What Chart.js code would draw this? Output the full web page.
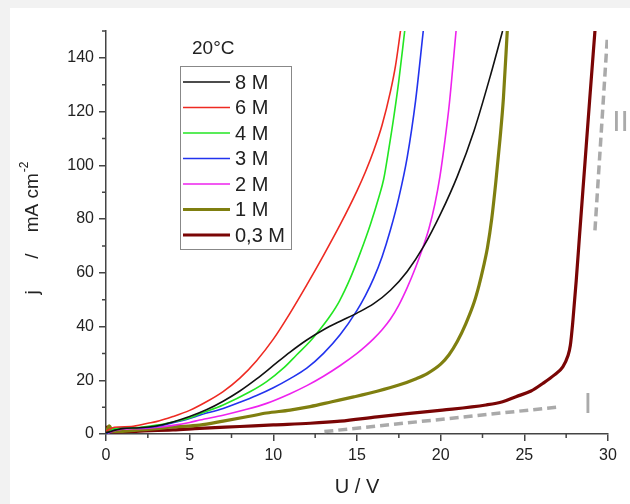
<!DOCTYPE html>
<html>
<head>
<meta charset="utf-8">
<script src="https://cdn.jsdelivr.net/npm/chart.js@4.4.1/dist/chart.umd.min.js"></script>
<style>
  html, body { margin: 0; padding: 0; background: #f2f2f2; overflow: hidden; }
  #card { position: absolute; left: 10px; top: 8px; width: 700px; height: 600px; background: #fff; }
</style>
</head>
<body>
<div id="card"><canvas id="ivChart" width="620" height="496"></canvas></div>
<script>
// ---- data (U in V, j in mA cm^-2) ----
const SERIES_LABELS = ['8 M', '6 M', '4 M', '3 M', '2 M', '1 M', '0,3 M'];
const SERIES_COLORS = ['#111111', '#ee2a22', '#22e622', '#2233ee', '#ee22ee', '#7f7f10', '#7a0505'];
const SERIES_WIDTHS = [1.6, 1.6, 1.6, 1.6, 1.6, 3.2, 3.2];

const U_8M = [0, 1, 2, 3, 4, 5, 6, 7, 8, 9, 10, 11, 12, 13, 14, 15, 16, 17, 18, 19, 20, 21, 22, 23, 23.7];
const J_8M = [0.5, 2, 2.3, 3, 4.5, 6.5, 9, 12.2, 16, 20.5, 25.5, 30.5, 35, 38.8, 42, 45, 48.5, 53.5, 60.5, 70, 82, 96, 113, 134, 150];

const U_6M = [0, 0.5, 1.5, 2.5, 3, 4, 5, 6, 7, 8, 9, 10, 11, 12, 13, 14, 15, 15.5, 16, 16.5, 17, 17.3, 17.6];
const J_6M = [1, 2.5, 2.8, 4, 4.6, 6.5, 8.8, 12, 15.8, 20.8, 27.3, 35.3, 45, 55.5, 66.5, 78, 90.5, 97.5, 105.5, 115, 127.5, 137, 150];

const U_4M = [0, 0.5, 1.5, 3, 4, 5, 5.6, 7, 8.6, 9.6, 10.6, 11.4, 12.2, 12.9, 13.4, 13.95, 14.6, 15.2, 15.8, 16.3, 16.6, 16.9, 17.2, 17.5, 17.85];
const J_4M = [0.5, 2, 2.2, 3.3, 4.5, 6, 7.5, 10.8, 15.7, 19.5, 24.5, 29.5, 34.5, 39.8, 44, 49.5, 58, 67.5, 78, 88, 95, 106, 118, 131.5, 150];

const U_3M = [0, 0.4, 0.8, 2, 3, 4, 5, 5.6, 7, 8, 9, 10, 11, 12, 13, 14, 15, 15.5, 16, 16.5, 17, 17.5, 18, 18.5, 18.96];
const J_3M = [0, 1.5, 2.3, 2.3, 2.8, 4.2, 5.8, 7, 9.5, 11.8, 14.3, 17.2, 20.6, 24.5, 30, 37, 46, 51.5, 58, 66, 76, 88, 103, 124, 150];

const U_2M = [0, 0.5, 1, 2, 3, 4, 5, 5.6, 7, 8.3, 9.6, 11, 12, 13, 14, 15, 15.5, 16, 16.5, 17, 17.5, 18, 18.5, 18.9, 19.3, 19.65, 19.96, 20.25, 20.52, 20.92];
const J_2M = [0, 1.2, 1.8, 2, 2.4, 3.2, 4.3, 5.2, 7, 9, 11.4, 15, 18, 21.5, 25.5, 30, 32.6, 35.5, 38.8, 42.8, 48, 54.5, 62, 68.8, 76.5, 85.5, 96, 109, 123, 150];

const U_1M = [0, 0.2, 0.4, 1, 2, 3, 4, 5.6, 7, 8.5, 9.6, 11, 12.2, 13.5, 14.8, 16.2, 17.5, 18.5, 19.2, 20, 20.5, 21, 21.5, 22, 22.3, 22.55, 22.8, 23.05, 23.3, 23.55, 23.75, 23.98];
const J_1M = [0.5, 3, 1, 1, 1.5, 2, 2.6, 3.3, 4.8, 6.5, 7.8, 8.9, 10.2, 12, 13.8, 15.9, 18.2, 20.5, 22.5, 26, 29.5, 34.5, 41, 49, 55.5, 62, 69.5, 80, 94, 110, 125, 150];

const U_03M = [0, 0.15, 0.5, 2, 4, 5.6, 8, 10, 12.2, 14, 16.2, 18, 20.1, 22.7, 23.7, 24.5, 25.4, 26.1, 26.8, 27.3, 27.6, 27.75, 27.9, 28.1, 28.3, 28.6, 28.9, 29.22];
const J_03M = [3, 1.2, 0.8, 1.1, 1.5, 2.1, 2.8, 3.4, 4, 4.8, 6.4, 7.6, 8.9, 10.8, 12, 13.9, 16, 18.8, 22, 25, 29, 33, 42, 57, 74, 99, 124, 150];

// dashed guide lines and their labels
const GUIDE_I_U = [13.05, 27.13];
const GUIDE_I_J = [0.9, 10.1];
const GUIDE_II_U = [29.22, 29.96];
const GUIDE_II_J = [75.8, 147.6];
const GUIDE_LABELS = ['I', 'II'];
const GUIDE_LABEL_U = [28.8, 30.75];
const GUIDE_LABEL_J = [10.8, 116];

const LEGEND_TITLE = '20°C';
const X_TITLE = 'U / V';

const SERIES_U = [U_8M, U_6M, U_4M, U_3M, U_2M, U_1M, U_03M];
const SERIES_J = [J_8M, J_6M, J_4M, J_3M, J_2M, J_1M, J_03M];

const FONT = "'Liberation Sans', Arial, sans-serif";
Chart.defaults.font.family = FONT;
Chart.defaults.color = '#222';

function toPoints(us, js) {
    return us.map((u, i) => ({ x: u, y: js[i] }));
}

const datasets = SERIES_LABELS.map((label, i) => ({
    label: label,
    data: toPoints(SERIES_U[i], SERIES_J[i]),
    borderColor: SERIES_COLORS[i],
    borderWidth: SERIES_WIDTHS[i],
    cubicInterpolationMode: 'monotone',
    showLine: true,
    pointRadius: 0
}));

[[GUIDE_I_U, GUIDE_I_J], [GUIDE_II_U, GUIDE_II_J]].forEach(([us, js]) => {
    datasets.push({
        label: '',
        guide: true,
        data: toPoints(us, js),
        borderColor: '#aaaaaa',
        borderWidth: 3.5,
        borderDash: [9, 5],
        showLine: true,
        pointRadius: 0,
        tension: 0
    });
});

// ------------------ minor ticks, y title, legend box, guide labels ------------------
const decorPlugin = {
    id: 'decor',
    afterDraw(chart) {
        const ctx = chart.ctx;
        const xs = chart.scales.x, ys = chart.scales.y;
        const area = chart.chartArea;
        ctx.save();

        // minor ticks
        ctx.strokeStyle = '#444';
        ctx.lineWidth = 1.5;
        ctx.beginPath();
        for (let v = 10; v <= 150; v += 20) {
            const p = ys.getPixelForValue(v);
            ctx.moveTo(area.left, p);
            ctx.lineTo(area.left - 4, p);
        }
        for (let v = 2.5; v < 30; v += 5) {
            const p = xs.getPixelForValue(v);
            ctx.moveTo(p, area.bottom);
            ctx.lineTo(p, area.bottom + 4);
        }
        ctx.stroke();

        // y title with superscript
        ctx.save();
        ctx.translate(23, (area.top + area.bottom) / 2 - 4);
        ctx.rotate(-Math.PI / 2);
        ctx.fillStyle = '#222';
        ctx.textBaseline = 'middle';
        const main = 'j      /    mA cm';
        ctx.font = '19px ' + FONT;
        const wMain = ctx.measureText(main).width;
        ctx.font = '12px ' + FONT;
        const wSup = ctx.measureText('-2').width;
        const start = -(wMain + wSup) / 2;
        ctx.font = '19px ' + FONT;
        ctx.textAlign = 'left';
        ctx.fillText(main, start, 0);
        ctx.font = '12px ' + FONT;
        ctx.fillText('-2', start + wMain + 1, -8);
        ctx.restore();

        // legend
        const bx = 170, by = 58, bw = 111, bh = 183;
        ctx.fillStyle = '#fff';
        ctx.fillRect(bx, by, bw, bh);
        ctx.strokeStyle = '#888';
        ctx.lineWidth = 1;
        ctx.strokeRect(bx + 0.5, by + 0.5, bw, bh);
        ctx.fillStyle = '#222';
        ctx.font = '19px ' + FONT;
        ctx.textBaseline = 'middle';
        ctx.textAlign = 'left';
        ctx.fillText(LEGEND_TITLE, 182, 41);
        ctx.font = '20px ' + FONT;
        chart.data.datasets.filter(d => !d.guide).forEach((d, i) => {
            const y = 74 + i * 25.5;
            ctx.strokeStyle = d.borderColor;
            ctx.lineWidth = d.borderWidth;
            ctx.beginPath();
            ctx.moveTo(173, y);
            ctx.lineTo(220, y);
            ctx.stroke();
            ctx.fillStyle = '#222';
            ctx.fillText(d.label, 225, y + 1);
        });

        // guide labels I / II
        ctx.fillStyle = '#aaaaaa';
        ctx.font = '30px ' + FONT;
        ctx.textAlign = 'center';
        GUIDE_LABELS.forEach((t, i) => {
            ctx.fillText(t, xs.getPixelForValue(GUIDE_LABEL_U[i]), ys.getPixelForValue(GUIDE_LABEL_J[i]));
        });
        ctx.restore();
    }
};

new Chart(document.getElementById('ivChart'), {
    type: 'scatter',
    data: { datasets: datasets },
    options: {
        responsive: false,
        animation: false,
        layout: { padding: { top: 23, right: 22, left: 0, bottom: 0 } },
        plugins: { legend: { display: false }, tooltip: { enabled: false } },
        scales: {
            x: {
                type: 'linear',
                min: 0,
                max: 30,
                afterFit: (s) => { s.height = 70; },
                ticks: { stepSize: 5, padding: 5, font: { size: 16 }, color: '#222' },
                grid: { display: true, drawOnChartArea: false, drawTicks: true, tickLength: 7, color: '#444', lineWidth: 1.5 },
                border: { display: true, color: '#444', width: 1.5 },
                title: { display: true, text: X_TITLE, font: { size: 20 }, color: '#222', padding: { top: 0, bottom: 5 } }
            },
            y: {
                type: 'linear',
                min: 0,
                max: 150,
                afterFit: (s) => { s.width = 96; },
                ticks: { stepSize: 20, includeBounds: false, padding: 5, font: { size: 16 }, color: '#222' },
                grid: { display: true, drawOnChartArea: false, drawTicks: true, tickLength: 7, color: '#444', lineWidth: 1.5 },
                border: { display: true, color: '#444', width: 1.5 }
            }
        }
    },
    plugins: [decorPlugin]
});
</script>
</body>
</html>
